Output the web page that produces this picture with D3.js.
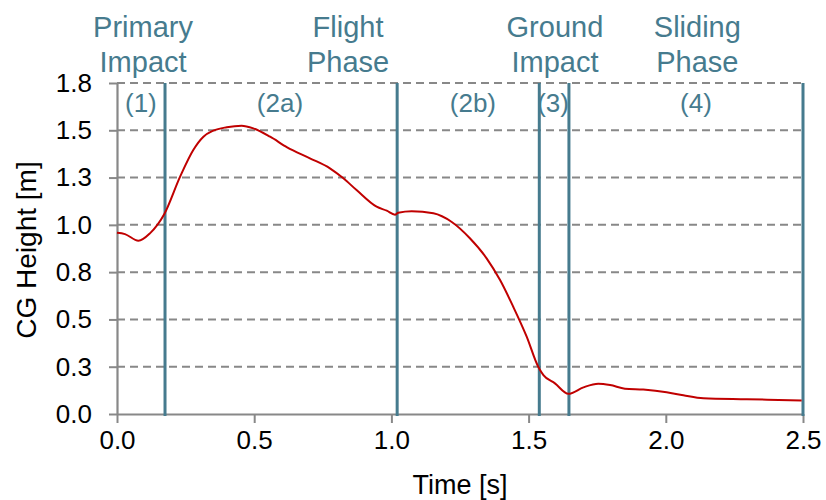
<!DOCTYPE html>
<html><head><meta charset="utf-8">
<script src="https://cdn.jsdelivr.net/npm/d3@7"></script>
<style>
html,body{margin:0;padding:0;background:#fff;}
svg{display:block;font-family:"Liberation Sans",Arial,sans-serif;}
</style></head>
<body>
<svg id="chart" width="826" height="500"></svg>
<script>
// ---- data ----
const timeValues = [0.000,0.029,0.078,0.120,0.172,0.230,0.278,0.315,0.351,0.400,0.454,0.497,0.558,0.620,0.703,0.776,0.825,0.873,0.946,0.983,1.013,1.025,1.074,1.153,1.220,1.286,1.347,1.396,1.444,1.493,1.535,1.554,1.596,1.645,1.700,1.754,1.797,1.851,1.918,2.003,2.064,2.137,2.295,2.495];
const cgHeight   = [0.958,0.951,0.916,0.955,1.056,1.255,1.396,1.466,1.498,1.516,1.524,1.510,1.466,1.410,1.352,1.299,1.246,1.184,1.096,1.075,1.054,1.064,1.072,1.061,1.015,0.929,0.823,0.708,0.567,0.409,0.250,0.206,0.162,0.107,0.141,0.160,0.153,0.134,0.129,0.115,0.099,0.083,0.078,0.072];
const phaseBoundaries = [0.175,1.021,1.539,1.647,2.5];
const phaseNames = ["(1)","(2a)","(2b)","(3)","(4)"];
const phaseNameTimes = [0.087,0.594,1.297,1.589,2.11];
const phaseTitles = [["Primary","Impact"],["Flight","Phase"],["Ground","Impact"],["Sliding","Phase"]];
const phaseTitleTimes = [0.095,0.842,1.596,2.115];
const xTickValues = [0,0.5,1.0,1.5,2.0,2.5];
const xTickLabels = ["0.0","0.5","1.0","1.5","2.0","2.5"];
const yTickValues = [0,0.25,0.5,0.75,1.0,1.25,1.5,1.75];
const yTickLabels = ["0.0","0.3","0.5","0.8","1.0","1.3","1.5","1.8"];

(function(){
// ---- layout ----
const mLeft = 117, mRight = 803, mTop = 83, mBottom = 414;
const blue = "#467b8e", grey = "#888888", red = "#c00000";
const svg = d3.select("#chart");
const x = d3.scaleLinear().domain([0,2.5]).range([mLeft,mRight]);
const y = d3.scaleLinear().domain([0,1.75]).range([mBottom,mTop]);

// grid
svg.append("g").selectAll("line").data(yTickValues.filter(v=>v>0)).join("line")
  .attr("x1",mLeft).attr("x2",mRight)
  .attr("y1",d=>y(d)).attr("y2",d=>y(d))
  .attr("stroke",grey).attr("stroke-width",2).attr("stroke-dasharray","8,5");

// axes
const xAxis = svg.append("g").attr("transform",`translate(0,${mBottom})`)
  .call(d3.axisBottom(x).tickValues(xTickValues).tickFormat((d,i)=>xTickLabels[i]).tickSize(9).tickPadding(8).tickSizeOuter(0));
const yAxis = svg.append("g").attr("transform",`translate(${mLeft},0)`)
  .call(d3.axisLeft(y).tickValues(yTickValues).tickFormat((d,i)=>yTickLabels[i]).tickSize(8).tickPadding(17).tickSizeOuter(0));
[xAxis,yAxis].forEach(g=>{
  g.select(".domain").attr("stroke",grey).attr("stroke-width",2.2);
  g.selectAll(".tick line").attr("stroke",grey).attr("stroke-width",2);
  g.selectAll(".tick text").attr("fill","#000").attr("font-size",26).attr("font-family","Liberation Sans, Arial, sans-serif");
});

// phase boundary lines
svg.append("g").selectAll("line").data(phaseBoundaries).join("line")
  .attr("x1",d=>x(d)).attr("x2",d=>x(d))
  .attr("y1",mTop).attr("y2",mBottom+2)
  .attr("stroke",blue).attr("stroke-width",3);

// curve
const pts = timeValues.map((t,i)=>[t,cgHeight[i]]);
svg.append("path").datum(pts)
  .attr("d",d3.line().x(d=>x(d[0])).y(d=>y(d[1])).curve(d3.curveMonotoneX))
  .attr("fill","none").attr("stroke",red).attr("stroke-width",2);

// phase names
svg.append("g").selectAll("text").data(phaseNames).join("text")
  .attr("x",(d,i)=>x(phaseNameTimes[i])).attr("y",112)
  .attr("text-anchor","middle").attr("font-size",26).attr("fill",blue)
  .text(d=>d);

// phase titles
const tg = svg.append("g").selectAll("text").data(phaseTitles).join("text")
  .attr("x",(d,i)=>x(phaseTitleTimes[i])).attr("y",37)
  .attr("text-anchor","middle").attr("font-size",29).attr("fill",blue);
tg.each(function(d,i){
  const el = d3.select(this);
  d.forEach((s,j)=>el.append("tspan").attr("x",x(phaseTitleTimes[i])).attr("dy",j===0?0:35).text(s));
});

// axis titles
svg.append("text").attr("x",460).attr("y",494).attr("text-anchor","middle")
  .attr("font-size",27).attr("fill","#000").text("Time [s]");
svg.append("text").attr("transform","translate(36,250) rotate(-90)").attr("text-anchor","middle")
  .attr("font-size",28).attr("fill","#000").text("CG Height [m]");
})();
</script>
</body></html>
